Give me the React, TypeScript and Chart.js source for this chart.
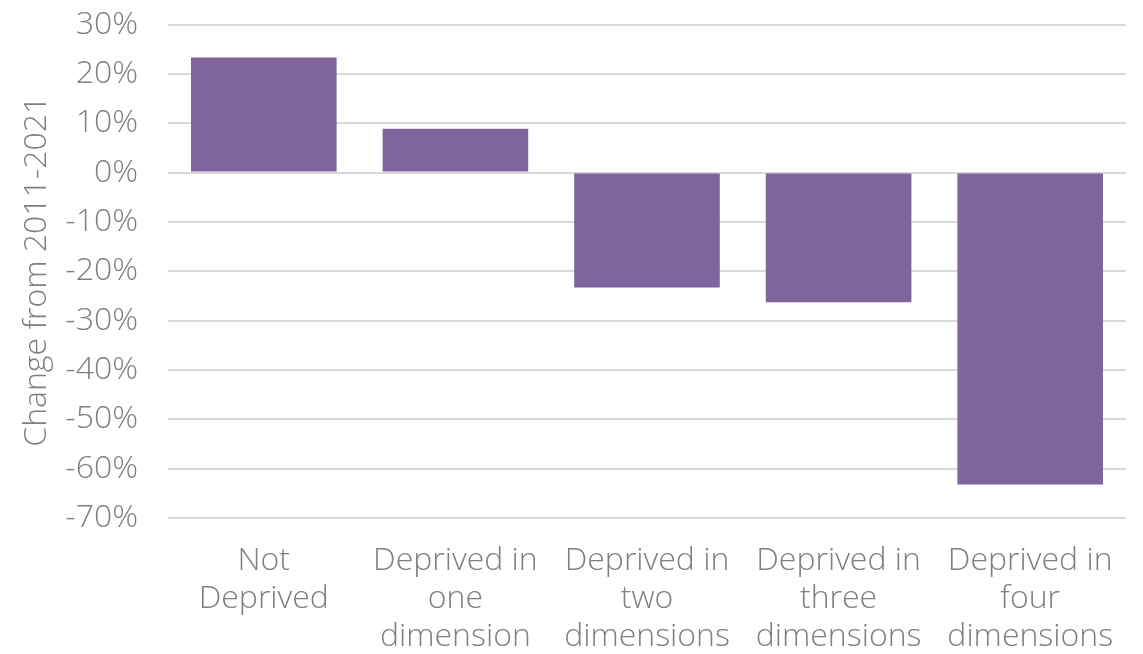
import React, { useEffect, useRef } from "react";
import { Chart, registerables } from "chart.js";
Chart.register(...registerables);

const categories: string[][] = [
  ["Not", "Deprived"],
  ["Deprived in", "one", "dimension"],
  ["Deprived in", "two", "dimensions"],
  ["Deprived in", "three", "dimensions"],
  ["Deprived in", "four", "dimensions"],
];
const changeValues: number[] = [23.3, 8.9, -23.3, -26.3, -63.2];
const yMin = -70;
const yMax = 30;
const yStep = 10;
const yTitle = "Change from 2011-2021";

const FONT = "'Open Sans', Lato, sans-serif";
const TEXT = "#7f7f7f";

export default function App() {
  const ref = useRef<HTMLCanvasElement | null>(null);
  useEffect(() => {
    if (!ref.current) return;
    const chart = new Chart(ref.current, {
      type: "bar",
      data: {
        labels: categories,
        datasets: [
          {
            data: changeValues,
            backgroundColor: "#80649e",
            barPercentage: 0.76,
            categoryPercentage: 1,
          },
        ],
      },
      options: {
        animation: false,
        responsive: true,
        maintainAspectRatio: false,
        layout: { padding: { top: 16.5, right: 9, bottom: 0, left: 0 } },
        plugins: { legend: { display: false }, tooltip: { enabled: false } },
        scales: {
          x: {
            afterFit: (s: any) => {
              s.height = 128;
              s.paddingTop = 0;
              s.paddingBottom = 0;
            },
            grid: { display: false },
            border: { display: false },
            ticks: {
              color: TEXT,
              font: { family: FONT, size: 32, weight: "300", lineHeight: 1.19 },
              maxRotation: 0,
              autoSkip: false,
              padding: 16,
            },
          },
          y: {
            min: yMin,
            max: yMax,
            afterFit: (s: any) => {
              s.width = 160;
              s.paddingTop = 0;
              s.paddingBottom = 0;
            },
            grid: { color: "#d9d9d9", lineWidth: 2, drawTicks: false },
            border: { display: false },
            ticks: {
              stepSize: yStep,
              color: TEXT,
              font: { family: FONT, size: 32, weight: "300" },
              padding: 30,
              callback: (v: any) => v + "%",
            },
            title: {
              display: true,
              text: yTitle,
              color: TEXT,
              font: { family: FONT, size: 32, weight: "300" },
              padding: { top: 10, bottom: 0 },
            },
          },
        },
      },
    });
    return () => chart.destroy();
  }, []);
  return (
    <div style={{ width: 1127, height: 638, position: "relative" }}>
      <canvas ref={ref} />
    </div>
  );
}
